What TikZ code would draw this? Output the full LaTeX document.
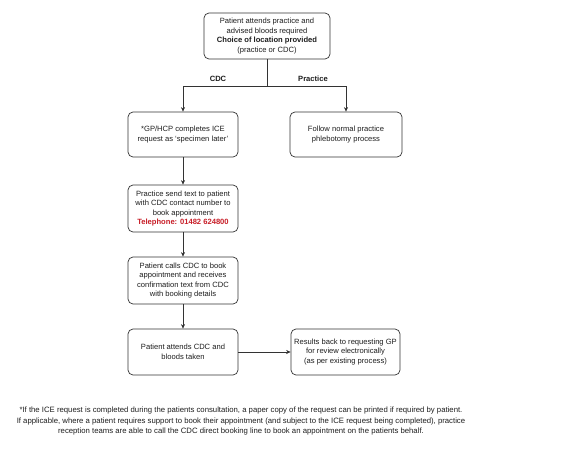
\documentclass[tikz,border=0pt]{standalone}
\usepackage{fontspec}
\setmainfont{Liberation Sans}
\usetikzlibrary{arrows.meta}
\definecolor{redtxt}{RGB}{200,30,40}
\definecolor{txt}{RGB}{30,30,30}
\begin{document}
\begin{tikzpicture}[x=1pt,y=-1pt,
  box/.style={draw=black!80, rounded corners=5pt, line width=0.7pt, align=center,
    font=\fontsize{7.6}{9.5}\selectfont, text=txt, inner sep=0pt},
  conn/.style={draw=black!80, line width=0.7pt},
  arr/.style={conn, -{Stealth[length=4.5pt,width=4pt]}},
  lbl/.style={font=\fontsize{7.6}{9}\selectfont\bfseries, text=txt}]
\useasboundingbox[fill=white] (0,0) rectangle (574,471);
\node[box, minimum width=126pt, minimum height=46pt] (top) at (267,36)
  {Patient attends practice and\\advised bloods required\\\textbf{Choice of location provided}\\(practice or CDC)};
\node[box, minimum width=110pt, minimum height=45pt] (ice) at (183,134.5)
  {*GP/HCP completes ICE\\request as `specimen later'};
\node[box, minimum width=112pt, minimum height=45pt] (prac) at (346,134.5)
  {Follow normal practice\\phlebotomy process};
\node[box, minimum width=110pt, minimum height=47pt] (text) at (183,208.5)
  {Practice send text to patient\\with CDC contact number to\\book appointment\\\textcolor{redtxt}{\textbf{Telephone: 01482 624800}}};
\node[box, minimum width=110pt, minimum height=47pt] (calls) at (183,280.5)
  {Patient calls CDC to book\\appointment and receives\\confirmation text from CDC\\with booking details};
\node[box, minimum width=110pt, minimum height=46pt] (attend) at (183,352)
  {Patient attends CDC and\\bloods taken};
\node[box, minimum width=109pt, minimum height=46pt] (results) at (345.5,352)
  {Results back to requesting GP\\for review electronically\\(as per existing process)};
\coordinate (j) at (267,86);
\draw[conn] (top) -- (j);
\draw[arr] (j) -| (ice.north);
\draw[arr] (j) -| (prac.north);
\node[lbl] (lcdc) at (218,79) {CDC};
\node[lbl] (lprac) at (313,79) {Practice};
\draw[arr] (ice) -- (text);
\draw[arr] (text) -- (calls);
\draw[arr] (calls) -- (attend);
\draw[arr] (attend) -- (results);
\node[align=center, font=\fontsize{7.75}{10.5}\selectfont, text=txt] (note) at (241,421)
  {*If the ICE request is completed during the patients consultation, a paper copy of the request can be printed if required by patient.\\
  If applicable, where a patient requires support to book their appointment (and subject to the ICE request being completed), practice\\
  reception teams are able to call the CDC direct booking line to book an appointment on the patients behalf.};
\end{tikzpicture}
\end{document}
